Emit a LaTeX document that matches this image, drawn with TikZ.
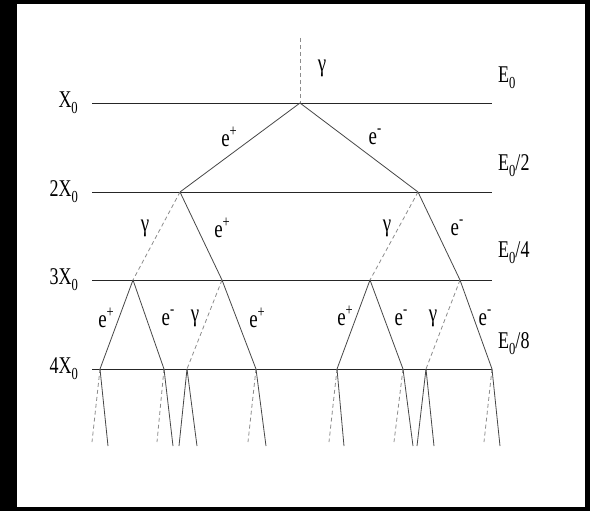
\documentclass[tikz,border=0pt]{standalone}
\usepackage{fontspec}
\setmainfont{Liberation Serif}
\newcommand{\dn}[1]{\raisebox{-0.55ex}{\fontsize{14}{14}\selectfont #1}}
\newcommand{\up}[1]{\raisebox{0.9ex}{\fontsize{14}{14}\selectfont #1}}
\newcommand{\tall}[1]{\scalebox{0.9}[1.2]{#1}}

\begin{document}
\begin{tikzpicture}[x=1pt,y=-1pt,
  lvl/.style={draw=black!85,line width=0.8pt},
  lep/.style={draw=black!72,line width=0.8pt},
  pho/.style={draw=black!45,line width=0.8pt,dash pattern=on 4pt off 3pt},
  lab/.style={font=\fontsize{20}{20}\selectfont,inner sep=0pt},
  part/.style={font=\fontsize{21}{21}\selectfont,inner sep=0pt}]
\useasboundingbox (0,0) rectangle (590,511);
\fill[black] (0,0) rectangle (590,511);
\fill[white] (17,4) rectangle (585,507);
% depth lines
\coordinate (l1a) at (92,103); \coordinate (l1b) at (492,103);
\coordinate (l2a) at (92,192); \coordinate (l2b) at (492,192);
\coordinate (l3a) at (92,280); \coordinate (l3b) at (492,280);
\coordinate (l4a) at (92,369); \coordinate (l4b) at (492,369);
\draw[lvl] (l1a) -- (l1b);
\draw[lvl] (l2a) -- (l2b);
\draw[lvl] (l3a) -- (l3b);
\draw[lvl] (l4a) -- (l4b);
\node[lab,anchor=east] (x1) at (78,103) {\tall{X\dn{0}}};
\node[lab,anchor=east] (x2) at (78,192) {\tall{2X\dn{0}}};
\node[lab,anchor=east] (x3) at (78,280) {\tall{3X\dn{0}}};
\node[lab,anchor=east] (x4) at (78,369) {\tall{4X\dn{0}}};
\node[lab,anchor=west] (en1) at (498,78) {\tall{E\dn{0}}};
\node[lab,anchor=west] (en2) at (498,166) {\tall{E\dn{0}/2}};
\node[lab,anchor=west] (en3) at (498,253) {\tall{E\dn{0}/4}};
\node[lab,anchor=west] (en4) at (498,344) {\tall{E\dn{0}/8}};
% vertices
\coordinate (g0) at (300,38);
\coordinate (v0) at (300,103);
\coordinate (a1) at (180,192); \coordinate (a2) at (418,192);
\coordinate (b1) at (133,280); \coordinate (b2) at (222,280);
\coordinate (b3) at (370,280); \coordinate (b4) at (460,280);
\coordinate (c1) at (100,369); \coordinate (c2) at (164,369);
\coordinate (c3) at (187,369); \coordinate (c4) at (256,369);
\coordinate (c5) at (337,369); \coordinate (c6) at (403,369);
\coordinate (c7) at (426,369); \coordinate (c8) at (492,369);
% shower
\draw[pho] (g0) -- (v0);
\draw[lep] (v0) -- (a1);
\draw[lep] (v0) -- (a2);
\draw[pho] (a1) -- (b1);
\draw[lep] (a1) -- (b2);
\draw[pho] (a2) -- (b3);
\draw[lep] (a2) -- (b4);
\draw[lep] (b1) -- (c1);
\draw[lep] (b1) -- (c2);
\draw[pho] (b2) -- (c3);
\draw[lep] (b2) -- (c4);
\draw[lep] (b3) -- (c5);
\draw[lep] (b3) -- (c6);
\draw[pho] (b4) -- (c7);
\draw[lep] (b4) -- (c8);
% stubs below 4X0
\coordinate (d1) at (92,442);  \coordinate (d2) at (108,446);
\coordinate (d3) at (157,442); \coordinate (d4) at (173,446);
\coordinate (d5) at (179,446); \coordinate (d6) at (197,446);
\coordinate (d7) at (248,442); \coordinate (d8) at (266,446);
\coordinate (d9) at (329,442); \coordinate (d10) at (344,446);
\coordinate (d11) at (394,442); \coordinate (d12) at (413,446);
\coordinate (d13) at (417,446); \coordinate (d14) at (434,446);
\coordinate (d15) at (484,442); \coordinate (d16) at (500,446);
\draw[pho] (c1) -- (d1);   \draw[lep] (c1) -- (d2);
\draw[pho] (c2) -- (d3);   \draw[lep] (c2) -- (d4);
\draw[lep] (c3) -- (d5);   \draw[lep] (c3) -- (d6);
\draw[pho] (c4) -- (d7);   \draw[lep] (c4) -- (d8);
\draw[pho] (c5) -- (d9);   \draw[lep] (c5) -- (d10);
\draw[pho] (c6) -- (d11);  \draw[lep] (c6) -- (d12);
\draw[lep] (c7) -- (d13);  \draw[lep] (c7) -- (d14);
\draw[pho] (c8) -- (d15);  \draw[lep] (c8) -- (d16);
% particle labels
\node[part] (p0) at (322,68) {\tall{γ}};
\node[part] (p1) at (229,137) {\tall{e\up{+}}};
\node[part] (p2) at (375,137) {\tall{e\up{-}}};
\node[part] (p3) at (145,228) {\tall{γ}};
\node[part] (p4) at (222,228) {\tall{e\up{+}}};
\node[part] (p5) at (387,228) {\tall{γ}};
\node[part] (p6) at (457,228) {\tall{e\up{-}}};
\node[part] (p7) at (106,318) {\tall{e\up{+}}};
\node[part] (p8) at (168,318) {\tall{e\up{-}}};
\node[part] (p9) at (195,318) {\tall{γ}};
\node[part] (p10) at (257,318) {\tall{e\up{+}}};
\node[part] (p11) at (345,316) {\tall{e\up{+}}};
\node[part] (p12) at (401,318) {\tall{e\up{-}}};
\node[part] (p13) at (433,318) {\tall{γ}};
\node[part] (p14) at (485,318) {\tall{e\up{-}}};
\end{tikzpicture}
\end{document}
